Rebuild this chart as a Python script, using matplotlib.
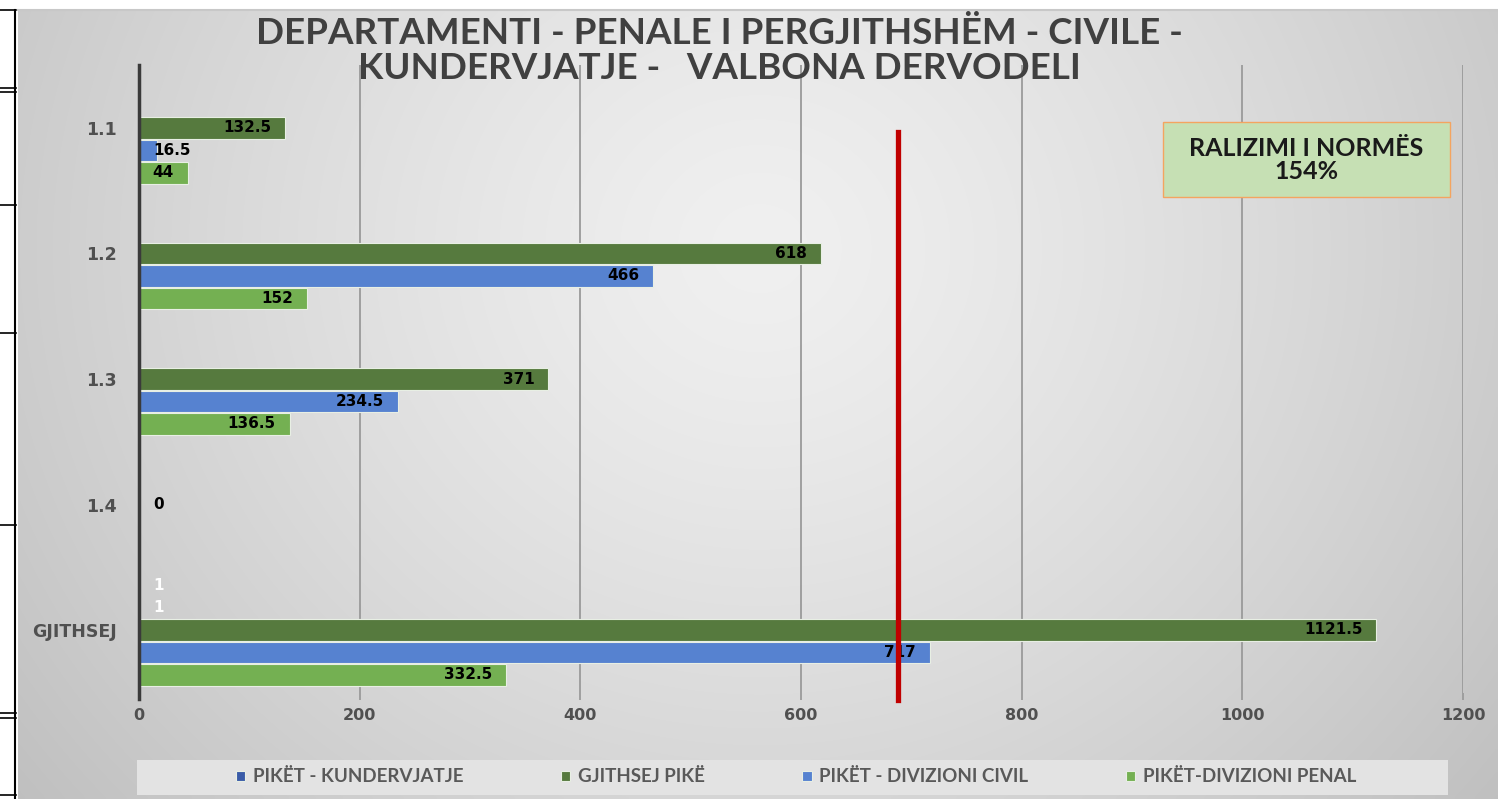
import numpy as np
import matplotlib
matplotlib.use("Agg")
import matplotlib.pyplot as plt
from matplotlib.patches import Rectangle
from matplotlib.lines import Line2D

# data
kategorite = ["1.1", "1.2", "1.3", "1.4", "GJITHSEJ"]
gjithsej_pike = [132.5, 618, 371, 0, 1121.5]
divizioni_civil = [16.5, 466, 234.5, np.nan, 717]
divizioni_penal = [44, 152, 136.5, np.nan, 332.5]
kundervjatje = [np.nan, np.nan, np.nan, np.nan, 1]
pa_emer = [np.nan, np.nan, np.nan, np.nan, 1]
norma = 688
realizimi = "154%"
x_ticks = [0, 200, 400, 600, 800, 1000, 1200]

W, H = 1498, 799
fig = plt.figure(figsize=(W / 100, H / 100), dpi=100)

# background: white strip + gray radial gradient
bg = fig.add_axes([18 / W, 0, 1 - 18 / W, 1 - 10 / H], zorder=-10)
yy, xx = np.mgrid[0:200, 0:400]
r = np.sqrt(((xx - 200) / 230.0) ** 2 + ((yy - 60) / 200.0) ** 2)
g = np.clip(240 - 42 * r ** 1.3, 190, 242) / 255.0
bg.imshow(np.dstack([g, g, g]), aspect="auto", extent=[0, 1, 0, 1], interpolation="bilinear")
bg.set_axis_off()

# table borders of the screenshot at the left edge
for yp in [10, 88, 92, 205, 333, 525, 713, 718, 795]:
    fig.add_artist(Line2D([0, 16 / W], [1 - yp / H] * 2, color="black", lw=1.2))
fig.add_artist(Line2D([15 / W] * 2, [1 - 10 / H, 0], color="black", lw=1.5))
fig.add_artist(Line2D([18 / W, 1], [1 - 10 / H] * 2, color="#c8c8c8", lw=1.5))

ax = fig.add_axes([139 / W, 1 - 692.75 / H, (1463 - 139) / W, (692.75 - 65.25) / H])
ax.set_facecolor("none")

c_dark = "#567a3e"
c_blue = "#5682d0"
c_light = "#74b052"
c_navy = "#3a5ba8"

step = 0.179
h = 0.172
ypos = np.arange(len(kategorite))
series = [
    (pa_emer, -2, c_navy, "_nolegend_", "white"),
    (kundervjatje, -1, c_navy, "PIKËT - KUNDERVJATJE", "white"),
    (gjithsej_pike, 0, c_dark, "GJITHSEJ PIKË", "black"),
    (divizioni_civil, 1, c_blue, "PIKËT - DIVIZIONI CIVIL", "black"),
    (divizioni_penal, 2, c_light, "PIKËT-DIVIZIONI PENAL", "black"),
]
handles = {}
for vals, k, col, lab, tcol in series:
    yv = ypos + k * step
    bars = ax.barh(yv, vals, height=h, color=col, edgecolor="#e8efe4", linewidth=0.8,
                   label=lab, zorder=3)
    handles[lab] = bars
    for v, y in zip(vals, yv):
        if np.isnan(v):
            continue
        txt = f"{v:g}"
        if v < 30:
            ax.annotate(txt, (0, y), xytext=(10, 0), textcoords="offset points",
                        ha="left", va="center", fontsize=11, fontweight="bold",
                        color=tcol, zorder=4)
        else:
            ax.annotate(txt, (v, y), xytext=(-10, 0), textcoords="offset points",
                        ha="right", va="center", fontsize=11, fontweight="bold",
                        color=tcol, zorder=4)

ax.set_xlim(0, 1200)
ax.set_ylim(len(kategorite) - 0.5, -0.5)
ax.set_xticks(x_ticks)
ax.set_yticks(ypos)
ax.set_yticklabels(kategorite)
ax.grid(axis="x", color="#9a9a9a", lw=1.3, zorder=1)
ax.tick_params(axis="x", length=5, width=1.3, color="#9a9a9a", pad=6,
               labelsize=11.5, labelcolor="#505050")
ax.tick_params(axis="y", length=0, pad=16, labelsize=12.5, labelcolor="#505050")
for lbl in ax.get_xticklabels() + ax.get_yticklabels():
    lbl.set_fontweight("bold")
for s in ["top", "right", "bottom"]:
    ax.spines[s].set_visible(False)
ax.spines["left"].set_color("#3a3a3a")
ax.spines["left"].set_linewidth(2.5)
ax.spines["left"].set_bounds(len(kategorite) - 0.5 + 0.05, -0.5)
ax.spines["left"].set_zorder(5)

# norm line
ax.axvline(norma, ymin=-0.012, ymax=0.894, color="#c00000", lw=3.8, zorder=6, clip_on=False)

# title
fig.text(719 / W, 1 - 51 / H,
         "DEPARTAMENTI - PENALE I PERGJITHSHËM - CIVILE -\nKUNDERVJATJE -   VALBONA DERVODELI",
         ha="center", va="center", fontsize=26.5, fontweight="bold", family="Lato",
         color="#404040", linespacing=1.08)

# realization box
fig.add_artist(Rectangle((1163 / W, 1 - 197 / H), (1450 - 1163) / W, 75 / H,
                         facecolor="#c6e0b4", edgecolor="#f4a460", lw=1.0,
                         transform=fig.transFigure))
fig.text(1306 / W, 1 - 160 / H, "RALIZIMI I NORMËS\n" + realizimi, ha="center", va="center",
         fontsize=18, fontweight="bold", family="Lato", color="#1a1a1a", linespacing=1.0)

# legend
fig.add_artist(Rectangle((137 / W, 1 - 795 / H), (1448 - 137) / W, 35 / H,
                         facecolor="#e3e3e3", edgecolor="none", transform=fig.transFigure))
labs = ["PIKËT - KUNDERVJATJE", "GJITHSEJ PIKË", "PIKËT - DIVIZIONI CIVIL", "PIKËT-DIVIZIONI PENAL"]
leg = fig.legend([handles[l] for l in labs], labs, loc="center", ncol=4,
                 bbox_to_anchor=(796 / W, 1 - 777 / H), frameon=False,
                 handlelength=0.5, handleheight=0.5, handletextpad=0.4, columnspacing=5.2,
                 prop={"family": "Lato", "weight": "bold", "size": 13.5})
for t in leg.get_texts():
    t.set_color("#595959")

fig.savefig("out.png", dpi=100)
